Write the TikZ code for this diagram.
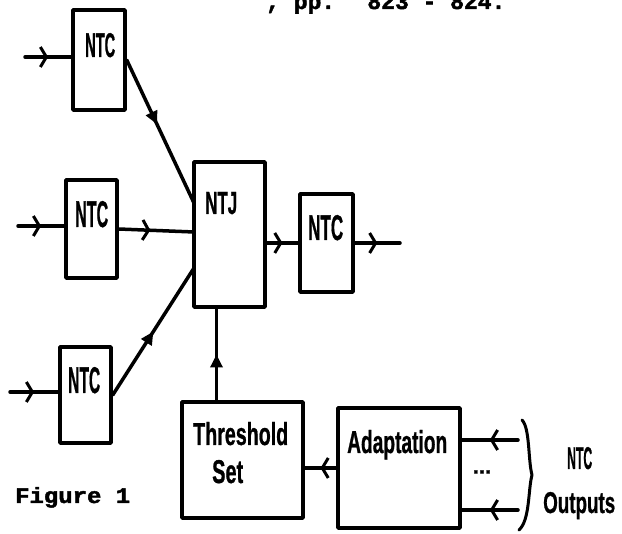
\documentclass[tikz,border=0pt]{standalone}
\usepackage{fontspec}
\usepackage{graphicx}
\usetikzlibrary{arrows.meta,decorations.markings}
\newfontfamily\plotfont{Liberation Sans}[BoldFeatures={FakeBold=1}]
\newfontfamily\dotfont{Liberation Mono}[BoldFeatures={FakeBold=2}]
\newcommand{\plotlbl}[3]{\resizebox{#1}{#2}{\plotfont\bfseries #3}}
\begin{document}
\begin{tikzpicture}[x=1pt,y=-1pt,line cap=round,line join=round,
  box/.style={draw,rectangle,line width=3.5pt,inner sep=0pt},
  lbl/.style={inner sep=0pt,anchor=base west},
  wire/.style={line width=3.5pt},
  chev/.style={postaction={decorate},decoration={markings,mark=at position #1 with {\arrow{Straight Barb[length=6pt,width=20pt,line width=3pt]}}}},
  chev/.default=0.5,
  tri/.style={postaction={decorate},decoration={markings,mark=at position #1 with {\arrow{Triangle[length=13pt,width=12pt]}}}},
  tri/.default=0.5]
\clip (0,0) rectangle (622,534);
\fill[white] (0,0) rectangle (622,534);

% boxes
\node[box,minimum width=52pt,minimum height=100pt] (ntc1) at (99,60) {};
\node[box,minimum width=51pt,minimum height=98pt] (ntc2) at (91.5,229) {};
\node[box,minimum width=51pt,minimum height=96pt] (ntc3) at (85.5,395) {};
\node[box,minimum width=71pt,minimum height=145pt] (ntj) at (229.5,234.5) {};
\node[box,minimum width=53pt,minimum height=98pt] (ntc4) at (326.5,243) {};
\node[box,minimum width=121pt,minimum height=116pt] (thr) at (242.5,460) {};
\node[box,minimum width=122pt,minimum height=120pt] (adp) at (399,468) {};

% labels
\node[lbl] (l1) at (85,57) {\plotlbl{30pt}{24pt}{NTC}};
\node[lbl] (l2) at (75,227) {\plotlbl{33pt}{26pt}{NTC}};
\node[lbl] (l3) at (68,393) {\plotlbl{32pt}{26pt}{NTC}};
\node[lbl] (lj) at (205,214) {\plotlbl{32pt}{22pt}{NTJ}};
\node[lbl] (l4) at (308,240) {\plotlbl{35pt}{25pt}{NTC}};
\node[lbl] (lt) at (193,445) {\plotlbl{95pt}{23pt}{Threshold}};
\node[lbl] (ls) at (212,483) {\plotlbl{31pt}{23pt}{Set}};
\node[lbl] (la) at (347,453) {\plotlbl{100pt}{23pt}{Adaptation}};
\node[lbl] (lo1) at (567,469) {\plotlbl{25pt}{22pt}{NTC}};
\node[lbl] (lo2) at (543,513) {\plotlbl{72pt}{21pt}{Outputs}};
\node[inner sep=0pt] (dots) at (482,472) {\plotfont\bfseries\fontsize{22pt}{22pt}\selectfont ...};
\node[lbl] (fig) at (15,503) {\resizebox{115pt}{16pt}{\dotfont\bfseries Figure 1}};
\node[lbl] (ref) at (266,9) {\dotfont\bfseries\fontsize{23pt}{23pt}\selectfont , pp.~ 823 - 824.};

% free ends
\coordinate (in1) at (25,57);
\coordinate (in2) at (18,226);
\coordinate (in3) at (10,392);
\coordinate (j1) at (194,203);
\coordinate (j2) at (194,232);
\coordinate (j3) at (194,268);
\coordinate (out) at (400,243);
\coordinate (ni1) at (518,440);
\coordinate (ni2) at (518,510);
\coordinate (b1) at (522,420);
\coordinate (b2) at (519,530);

% connectors
\draw[wire,chev] (in1) -- (in1 -| ntc1.west);
\draw[wire,chev] (in2) -- (in2 -| ntc2.west);
\draw[wire,chev] (in3) -- (in3 -| ntc3.west);
\draw[wire,tri=0.45] (ntc1.east) -- (j1);
\draw[wire,chev=0.42] (ntc2.east) -- (j2);
\draw[wire,tri=0.5] (ntc3.east) -- (j3);
\draw[wire,chev] (ntj.east |- ntc4.west) -- (ntc4.west);
\draw[wire,chev] (ntc4.east) -- (out);
\draw[wire,tri] ([xshift=-26pt]thr.north) -- ([xshift=-13pt]ntj.south);
\draw[wire,chev] (adp.west) -- (adp.west -| thr.east);
\draw[wire,chev] (ni1) -- (ni1 -| adp.east);
\draw[wire,chev] (ni2) -- (ni2 -| adp.east);

% brace
\draw[line width=3pt] (b1) .. controls (530,428) and (528,460) .. (532,475)
  .. controls (528,490) and (530,520) .. (b2);
\end{tikzpicture}
\end{document}
